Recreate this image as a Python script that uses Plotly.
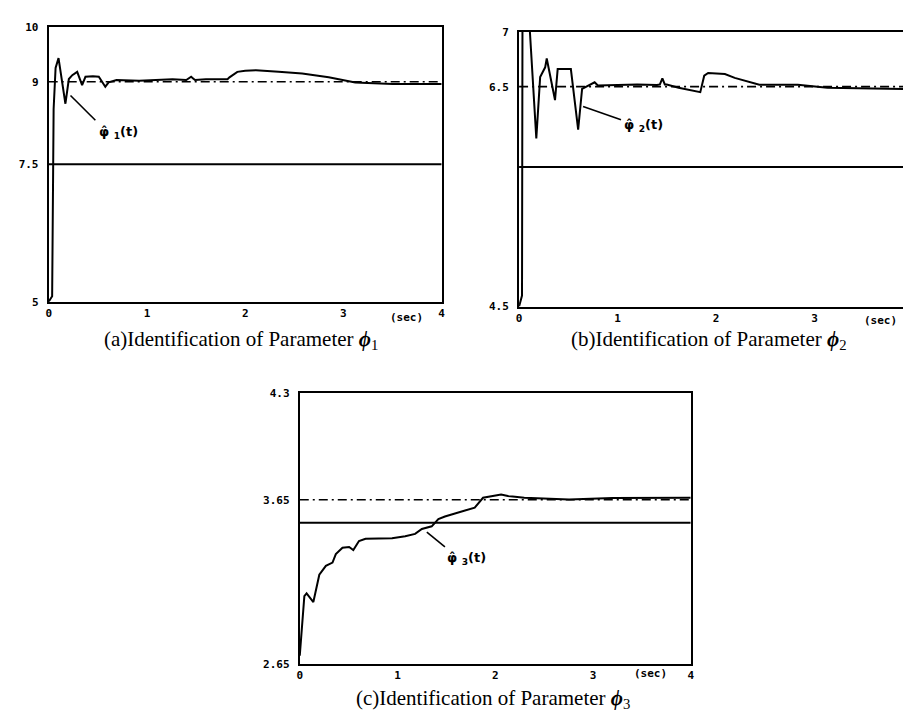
import plotly.graph_objects as go

# ---------------- data ----------------
X_TICKS = [0, 1, 2, 3, 4]
X_TICKS_B = [0, 1, 2, 3]

# (a) parameter phi1
T_A = [0, 0.035, 0.05, 0.07, 0.10, 0.13, 0.17, 0.205, 0.24, 0.29, 0.34, 0.374, 0.45, 0.51,
       0.545, 0.576, 0.61, 0.69, 0.92, 1.26, 1.40, 1.43, 1.45, 1.47, 1.49, 1.60, 1.82, 1.84,
       1.92, 2.00, 2.11, 2.34, 2.58, 2.85, 3.12, 3.50, 4.00]
PHI1 = [5.0, 5.1, 8.5, 9.25, 9.43, 9.05, 8.6, 9.05, 9.12, 9.18, 8.94, 9.09, 9.10, 9.09,
        9.0, 8.91, 8.99, 9.03, 9.02, 9.045, 9.03, 9.07, 9.09, 9.06, 9.03, 9.045, 9.045, 9.08,
        9.18, 9.20, 9.21, 9.18, 9.15, 9.08, 8.985, 8.96, 8.96]
TRUE_A = 9.0
LEVEL_A = 7.5
YRANGE_A = [5, 10]
YTICKS_A = [5, 7.5, 9, 10]
YTEXT_A = ["5", "7.5", "9", "10"]

# (b) parameter phi2
T_B = [0, 0.03, 0.035, 0.09, 0.175, 0.214, 0.265, 0.281, 0.365, 0.392, 0.526, 0.60, 0.64,
       0.70, 0.767, 0.80, 1.0, 1.2, 1.40, 1.43, 1.455, 1.48, 1.50, 1.62, 1.84, 1.88, 1.92,
       2.09, 2.19, 2.29, 2.375, 2.44, 2.83, 3.13, 4.0]
PHI2 = [4.5, 4.6, 7.3, 7.3, 6.03, 6.587, 6.676, 6.756, 6.378, 6.66, 6.66, 6.11, 6.48,
        6.51, 6.54, 6.51, 6.515, 6.52, 6.515, 6.52, 6.575, 6.52, 6.52, 6.49, 6.45, 6.60, 6.625,
        6.615, 6.58, 6.556, 6.536, 6.518, 6.518, 6.49, 6.476]
TRUE_B = 6.5
LEVEL_B = 5.77
YRANGE_B = [4.5, 7]
YTICKS_B = [4.5, 6.5, 7]
YTEXT_B = ["4.5", "6.5", "7"]

# (c) parameter phi3
T_C = [0, 0.02, 0.04, 0.047, 0.07, 0.139, 0.2, 0.267, 0.335, 0.369, 0.437, 0.505, 0.548,
       0.606, 0.673, 0.944, 1.079, 1.18, 1.249, 1.35, 1.418, 1.485, 1.79, 1.875, 2.06, 2.129,
       2.297, 2.755, 3.2, 4.0]
PHI3 = [2.7, 2.85, 3.0, 3.063, 3.08, 3.027, 3.193, 3.247, 3.267, 3.319, 3.358, 3.362, 3.343,
        3.398, 3.412, 3.416, 3.427, 3.442, 3.472, 3.488, 3.532, 3.548, 3.602, 3.662, 3.682, 3.672,
        3.662, 3.652, 3.66, 3.662]
TRUE_C = 3.65
LEVEL_C = 3.51
YRANGE_C = [2.65, 4.3]
YTICKS_C = [2.65, 3.65, 4.3]
YTEXT_C = ["2.65", "3.65", "4.3"]

# curve labels: leader line (t, value) pairs and label anchor
LEAD_A_T, LEAD_A_V = [0.222, 0.475], [8.75, 8.30]
LABEL_A = (0.49, 8.07)
LEAD_B_T, LEAD_B_V = [0.65, 1.035], [6.32, 6.20]
LABEL_B = (1.05, 6.15)
LEAD_C_T, LEAD_C_V = [1.30, 1.485], [3.452, 3.363]
LABEL_C = (1.49, 3.29)

CAPTIONS = ["(a)Identification of Parameter <b><i>ϕ</i></b><sub>1</sub>",
            "(b)Identification of Parameter <b><i>ϕ</i></b><sub>2</sub>",
            "(c)Identification of Parameter <b><i>ϕ</i></b><sub>3</sub>"]
CURVE_LABELS = ["φ\u0302 <sub>1</sub>(t)", "φ\u0302 <sub>2</sub>(t)", "φ\u0302 <sub>3</sub>(t)"]

# ---------------- layout geometry (pixels) ----------------
W, H = 911, 713


def fx(p):
    return p / W


def fy(p):
    return 1 - p / H


PANELS = [
    dict(t=T_A, v=PHI1, true=TRUE_A, level=LEVEL_A, yr=YRANGE_A, yt=YTICKS_A, ytx=YTEXT_A,
         xt=X_TICKS, px=(38, 434), py=(13, 293), lead=(LEAD_A_T, LEAD_A_V), lab=LABEL_A,
         sec=(399, 309), cap=(232, 332)),
    dict(t=T_B, v=PHI2, true=TRUE_B, level=LEVEL_B, yr=YRANGE_B, yt=YTICKS_B, ytx=YTEXT_B,
         xt=X_TICKS_B, px=(512, 909), py=(18, 298), lead=(LEAD_B_T, LEAD_B_V), lab=LABEL_B,
         sec=(876, 312), cap=(703, 332)),
    dict(t=T_C, v=PHI3, true=TRUE_C, level=LEVEL_C, yr=YRANGE_C, yt=YTICKS_C, ytx=YTEXT_C,
         xt=X_TICKS, px=(291, 685), py=(386, 662), lead=(LEAD_C_T, LEAD_C_V), lab=LABEL_C,
         sec=(644, 672), cap=(486, 698)),
]

TICKFONT = dict(family="DejaVu Sans Mono", size=11, color="black", weight="bold")
fig = go.Figure()
annotations = []
layout = {}

for i, p in enumerate(PANELS):
    n = "" if i == 0 else str(i + 1)
    xa, ya = "x" + n, "y" + n
    # true value (dash-dot)
    fig.add_trace(go.Scatter(x=[0, 4], y=[p["true"], p["true"]], mode="lines",
                             line=dict(color="black", width=1.6, dash="9px,4px,2px,4px"),
                             xaxis=xa, yaxis=ya, showlegend=False, hoverinfo="skip"))
    # reference level (solid)
    fig.add_trace(go.Scatter(x=[0, 4], y=[p["level"], p["level"]], mode="lines",
                             line=dict(color="black", width=2),
                             xaxis=xa, yaxis=ya, showlegend=False, hoverinfo="skip"))
    # estimate
    fig.add_trace(go.Scatter(x=p["t"], y=p["v"], mode="lines",
                             line=dict(color="black", width=2),
                             xaxis=xa, yaxis=ya, showlegend=False))
    # leader line
    fig.add_trace(go.Scatter(x=p["lead"][0], y=p["lead"][1], mode="lines",
                             line=dict(color="black", width=1.6),
                             xaxis=xa, yaxis=ya, showlegend=False, hoverinfo="skip"))
    lab_font = dict(family="DejaVu Sans", size=13, color="black")
    annotations.append(dict(x=p["lab"][0], y=p["lab"][1], xref=xa, yref=ya,
                            text="<b>" + CURVE_LABELS[i] + "</b>", showarrow=False,
                            xanchor="left", yanchor="middle", font=lab_font))
    annotations.append(dict(x=fx(p["sec"][0]), y=fy(p["sec"][1]), xref="paper", yref="paper",
                            text="<b>(sec)</b>", showarrow=False, xanchor="center",
                            yanchor="middle",
                            font=dict(family="DejaVu Sans Mono", size=11, color="black")))
    annotations.append(dict(x=fx(p["cap"][0]), y=fy(p["cap"][1]), xref="paper", yref="paper",
                            text=CAPTIONS[i], showarrow=False, xanchor="center",
                            yanchor="middle",
                            font=dict(family="Liberation Serif", size=21, color="black")))
    layout["xaxis" + n] = dict(domain=[fx(p["px"][0]), fx(p["px"][1])], range=[0, 4],
                               tickvals=p["xt"], ticktext=[str(v) for v in p["xt"]],
                               showline=True, mirror=True, linecolor="black", linewidth=2,
                               showgrid=False, zeroline=False, ticks="", anchor=ya,
                               tickfont=TICKFONT, ticklabelstandoff=0)
    layout["yaxis" + n] = dict(domain=[fy(p["py"][1]), fy(p["py"][0])], range=p["yr"],
                               tickvals=p["yt"], ticktext=p["ytx"],
                               showline=True, mirror=True, linecolor="black", linewidth=2,
                               showgrid=False, zeroline=False, ticks="", anchor=xa,
                               tickfont=TICKFONT, ticklabelstandoff=6)

fig.update_layout(width=W, height=H, margin=dict(l=0, r=0, t=0, b=0),
                  paper_bgcolor="white", plot_bgcolor="white",
                  annotations=annotations, showlegend=False, **layout)

fig.write_html("out.html")
